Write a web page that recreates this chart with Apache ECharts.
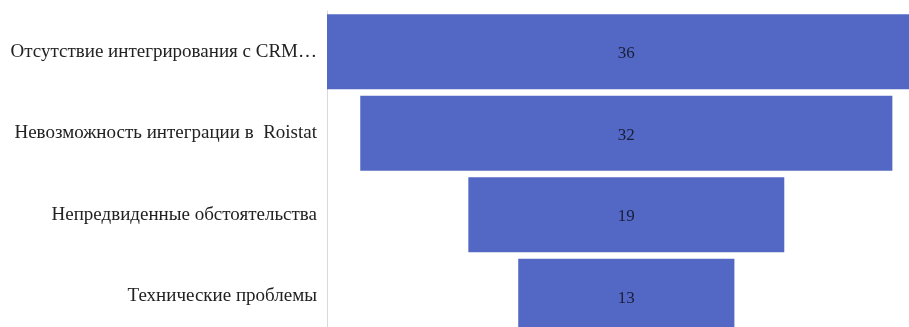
<!DOCTYPE html>
<html>
<head>
<meta charset="utf-8">
<script src="https://cdn.jsdelivr.net/npm/echarts@6/dist/echarts.min.js"></script>
<style>html,body{margin:0;padding:0;background:#fff}#c{width:909px;height:327px}</style>
</head>
<body>
<div id="c"></div>
<script>
const categories = ["Отсутствие интегрирования с CRM…", "Невозможность интеграции в  Roistat", "Непредвиденные обстоятельства", "Технические проблемы"];
const values = [36, 32, 19, 13];
const maxValue = 36;
const offsets = values.map(v => (maxValue - v) / 2);

const chart = echarts.init(document.getElementById('c'), null, {renderer: 'canvas'});
chart.setOption({
  animation: false,
  backgroundColor: '#ffffff',
  grid: {left: 327, right: 0, top: 11, height: 326, containLabel: false, outerBoundsMode: 'none'},
  xAxis: {type: 'value', min: 0, max: 35, show: false},
  yAxis: {
    type: 'category', data: categories, inverse: true,
    axisLine: {show: true, lineStyle: {color: '#d9d9d9', width: 1}},
    axisTick: {show: false},
    axisLabel: {fontFamily: 'Liberation Serif', fontSize: 19, color: '#222222', margin: 10, padding: [3, 0, 0, 0]}
  },
  series: [
    {type: 'bar', stack: 'f', data: offsets, itemStyle: {color: 'transparent'}, silent: true, barCategoryGap: '8%', clip: false},
    {type: 'bar', stack: 'f', data: values, barCategoryGap: '8%', clip: false,
     itemStyle: {color: '#5368c4'},
     label: {show: true, position: 'inside', offset: [0, 2], fontFamily: 'Liberation Serif', fontSize: 17, color: '#1a1d3a'}}
  ]
});
</script>
</body>
</html>
